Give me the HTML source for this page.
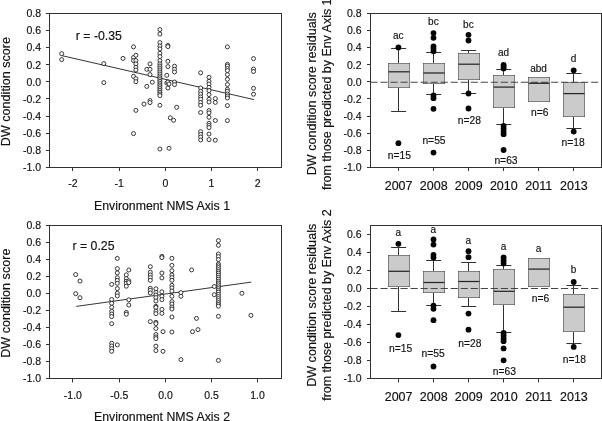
<!DOCTYPE html>
<html lang="en">
<head>
<meta charset="utf-8">
<title>DW condition score vs Environment NMS axes</title>
<style>
html,body{margin:0;padding:0;background:#fff;}
body{width:602px;height:421px;overflow:hidden;}
svg{display:block;will-change:transform;}
</style>
</head>
<body>
<svg width="602" height="421" viewBox="0 0 602 421" font-family="'Liberation Sans', Arial, Helvetica, sans-serif" fill="#111111" stroke="#111111" stroke-width="0.16" paint-order="stroke">
<g>
<rect x="-2" y="-2" width="606" height="425" fill="#ffffff" stroke="none"/>
<rect x="49.5" y="13.5" width="232" height="154" fill="none" stroke="#323232" stroke-width="1"/>
<line x1="45.95" y1="13.5" x2="49.7" y2="13.5" stroke="#323232" stroke-width="1.0"/>
<text x="41" y="17.35" font-size="10.5" text-anchor="end">0.8</text>
<line x1="45.95" y1="30.5" x2="49.7" y2="30.5" stroke="#323232" stroke-width="1.0"/>
<text x="41" y="34.42" font-size="10.5" text-anchor="end">0.6</text>
<line x1="45.95" y1="47.5" x2="49.7" y2="47.5" stroke="#323232" stroke-width="1.0"/>
<text x="41" y="51.49" font-size="10.5" text-anchor="end">0.4</text>
<line x1="45.95" y1="64.5" x2="49.7" y2="64.5" stroke="#323232" stroke-width="1.0"/>
<text x="41" y="68.57" font-size="10.5" text-anchor="end">0.2</text>
<line x1="45.95" y1="81.5" x2="49.7" y2="81.5" stroke="#323232" stroke-width="1.0"/>
<text x="41" y="85.64" font-size="10.5" text-anchor="end">0.0</text>
<line x1="45.95" y1="98.5" x2="49.7" y2="98.5" stroke="#323232" stroke-width="1.0"/>
<text x="41" y="102.71" font-size="10.5" text-anchor="end">-0.2</text>
<line x1="45.95" y1="116.5" x2="49.7" y2="116.5" stroke="#323232" stroke-width="1.0"/>
<text x="41" y="119.78" font-size="10.5" text-anchor="end">-0.4</text>
<line x1="45.95" y1="133.5" x2="49.7" y2="133.5" stroke="#323232" stroke-width="1.0"/>
<text x="41" y="136.86" font-size="10.5" text-anchor="end">-0.6</text>
<line x1="45.95" y1="150.5" x2="49.7" y2="150.5" stroke="#323232" stroke-width="1.0"/>
<text x="41" y="153.93" font-size="10.5" text-anchor="end">-0.8</text>
<line x1="45.95" y1="167.5" x2="49.7" y2="167.5" stroke="#323232" stroke-width="1.0"/>
<text x="41" y="171" font-size="10.5" text-anchor="end">-1.0</text>
<line x1="72.5" y1="167.25" x2="72.5" y2="171" stroke="#323232" stroke-width="1.0"/>
<text x="72.9" y="187" font-size="10.5" text-anchor="middle">-2</text>
<line x1="119.5" y1="167.25" x2="119.5" y2="171" stroke="#323232" stroke-width="1.0"/>
<text x="119.2" y="187" font-size="10.5" text-anchor="middle">-1</text>
<line x1="165.5" y1="167.25" x2="165.5" y2="171" stroke="#323232" stroke-width="1.0"/>
<text x="165.5" y="187" font-size="10.5" text-anchor="middle">0</text>
<line x1="211.5" y1="167.25" x2="211.5" y2="171" stroke="#323232" stroke-width="1.0"/>
<text x="211.5" y="187" font-size="10.5" text-anchor="middle">1</text>
<line x1="257.5" y1="167.25" x2="257.5" y2="171" stroke="#323232" stroke-width="1.0"/>
<text x="257.6" y="187" font-size="10.5" text-anchor="middle">2</text>
<text x="162" y="209.7" font-size="12.3" text-anchor="middle">Environment NMS Axis 1</text>
<text x="10.2" y="91.6" font-size="12.6" text-anchor="middle" transform="rotate(-90 10.2 91.6)">DW condition score</text>
<text x="75.8" y="39.7" font-size="12.3" text-anchor="start">r = -0.35</text>
<line x1="61.7" y1="55.6" x2="254" y2="99.6" stroke="#2a2a2a" stroke-width="0.95"/>
<g fill="#fff" stroke="#161616" stroke-width="0.85" paint-order="normal">
<circle cx="61.7" cy="53.7" r="2.0"/>
<circle cx="61.7" cy="59.6" r="2.0"/>
<circle cx="103.8" cy="63.6" r="2.0"/>
<circle cx="103.8" cy="82.6" r="2.0"/>
<circle cx="123" cy="58.4" r="2.0"/>
<circle cx="133.5" cy="46.9" r="2.0"/>
<circle cx="133.5" cy="57.5" r="2.0"/>
<circle cx="133.5" cy="60.6" r="2.0"/>
<circle cx="133.5" cy="76.4" r="2.0"/>
<circle cx="133.5" cy="133.6" r="2.0"/>
<circle cx="135.9" cy="55.3" r="2.0"/>
<circle cx="135.9" cy="60.6" r="2.0"/>
<circle cx="135.9" cy="63.9" r="2.0"/>
<circle cx="135.9" cy="67.3" r="2.0"/>
<circle cx="135.9" cy="70" r="2.0"/>
<circle cx="135.9" cy="78.7" r="2.0"/>
<circle cx="135.9" cy="81.7" r="2.0"/>
<circle cx="135.9" cy="110.4" r="2.0"/>
<circle cx="144" cy="104.1" r="2.0"/>
<circle cx="146.8" cy="69.3" r="2.0"/>
<circle cx="146.8" cy="86.4" r="2.0"/>
<circle cx="150" cy="63.9" r="2.0"/>
<circle cx="150" cy="69.3" r="2.0"/>
<circle cx="150" cy="74.6" r="2.0"/>
<circle cx="150" cy="100.6" r="2.0"/>
<circle cx="150" cy="102.6" r="2.0"/>
<circle cx="152.3" cy="82.2" r="2.0"/>
<circle cx="159.9" cy="29.6" r="2.0"/>
<circle cx="159.9" cy="34" r="2.0"/>
<circle cx="159.9" cy="42.6" r="2.0"/>
<circle cx="159.9" cy="46" r="2.0"/>
<circle cx="159.9" cy="48.9" r="2.0"/>
<circle cx="159.9" cy="53.3" r="2.0"/>
<circle cx="159.9" cy="56.6" r="2.0"/>
<circle cx="159.9" cy="60.6" r="2.0"/>
<circle cx="159.9" cy="63.9" r="2.0"/>
<circle cx="159.9" cy="66" r="2.0"/>
<circle cx="159.9" cy="68" r="2.0"/>
<circle cx="159.9" cy="70" r="2.0"/>
<circle cx="159.9" cy="72" r="2.0"/>
<circle cx="159.9" cy="74" r="2.0"/>
<circle cx="159.9" cy="76" r="2.0"/>
<circle cx="159.9" cy="77.8" r="2.0"/>
<circle cx="159.9" cy="79.6" r="2.0"/>
<circle cx="159.9" cy="81.4" r="2.0"/>
<circle cx="159.9" cy="83.2" r="2.0"/>
<circle cx="159.9" cy="85" r="2.0"/>
<circle cx="159.9" cy="86.8" r="2.0"/>
<circle cx="159.9" cy="88.6" r="2.0"/>
<circle cx="159.9" cy="90.4" r="2.0"/>
<circle cx="159.9" cy="92.2" r="2.0"/>
<circle cx="159.9" cy="94" r="2.0"/>
<circle cx="159.9" cy="95.6" r="2.0"/>
<circle cx="159.9" cy="105.3" r="2.0"/>
<circle cx="159.9" cy="149" r="2.0"/>
<circle cx="166.8" cy="75.3" r="2.0"/>
<circle cx="166.8" cy="83" r="2.0"/>
<circle cx="167.9" cy="45.4" r="2.0"/>
<circle cx="167.9" cy="46.6" r="2.0"/>
<circle cx="167.9" cy="61.3" r="2.0"/>
<circle cx="167.9" cy="66.6" r="2.0"/>
<circle cx="167.9" cy="82" r="2.0"/>
<circle cx="167.9" cy="88" r="2.0"/>
<circle cx="169" cy="84" r="2.0"/>
<circle cx="169" cy="148.3" r="2.0"/>
<circle cx="170.3" cy="117.8" r="2.0"/>
<circle cx="173.6" cy="120.3" r="2.0"/>
<circle cx="174.5" cy="66.2" r="2.0"/>
<circle cx="174.5" cy="69.3" r="2.0"/>
<circle cx="174.5" cy="72" r="2.0"/>
<circle cx="174.5" cy="82" r="2.0"/>
<circle cx="174.5" cy="84.6" r="2.0"/>
<circle cx="176.7" cy="107.3" r="2.0"/>
<circle cx="200.65" cy="72.8" r="2.0"/>
<circle cx="200.65" cy="88" r="2.0"/>
<circle cx="200.65" cy="91.3" r="2.0"/>
<circle cx="200.65" cy="94" r="2.0"/>
<circle cx="200.65" cy="96.9" r="2.0"/>
<circle cx="200.65" cy="99.3" r="2.0"/>
<circle cx="200.65" cy="102.6" r="2.0"/>
<circle cx="200.65" cy="105.3" r="2.0"/>
<circle cx="200.65" cy="112.5" r="2.0"/>
<circle cx="200.65" cy="131.7" r="2.0"/>
<circle cx="200.65" cy="134.4" r="2.0"/>
<circle cx="200.65" cy="137" r="2.0"/>
<circle cx="200.65" cy="140" r="2.0"/>
<circle cx="209" cy="77.3" r="2.0"/>
<circle cx="209" cy="81.3" r="2.0"/>
<circle cx="209" cy="84" r="2.0"/>
<circle cx="209" cy="87.3" r="2.0"/>
<circle cx="209" cy="90.6" r="2.0"/>
<circle cx="209" cy="94.6" r="2.0"/>
<circle cx="209" cy="99.3" r="2.0"/>
<circle cx="209" cy="102" r="2.0"/>
<circle cx="209" cy="110.6" r="2.0"/>
<circle cx="209" cy="112.9" r="2.0"/>
<circle cx="209" cy="117.3" r="2.0"/>
<circle cx="209" cy="123.3" r="2.0"/>
<circle cx="209" cy="125.5" r="2.0"/>
<circle cx="209" cy="127.6" r="2.0"/>
<circle cx="209" cy="134" r="2.0"/>
<circle cx="209" cy="139.6" r="2.0"/>
<circle cx="215.3" cy="98.6" r="2.0"/>
<circle cx="215.3" cy="102.4" r="2.0"/>
<circle cx="215.3" cy="120.5" r="2.0"/>
<circle cx="215.3" cy="140.2" r="2.0"/>
<circle cx="227.4" cy="46.9" r="2.0"/>
<circle cx="227.4" cy="64.4" r="2.0"/>
<circle cx="227.4" cy="66" r="2.0"/>
<circle cx="227.4" cy="68.6" r="2.0"/>
<circle cx="227.4" cy="70.6" r="2.0"/>
<circle cx="227.4" cy="74.6" r="2.0"/>
<circle cx="227.4" cy="79.3" r="2.0"/>
<circle cx="227.4" cy="84.5" r="2.0"/>
<circle cx="227.4" cy="89.3" r="2.0"/>
<circle cx="227.4" cy="91.3" r="2.0"/>
<circle cx="227.4" cy="94" r="2.0"/>
<circle cx="227.4" cy="96" r="2.0"/>
<circle cx="227.4" cy="98" r="2.0"/>
<circle cx="227.4" cy="105.6" r="2.0"/>
<circle cx="227.4" cy="120.6" r="2.0"/>
<circle cx="253.5" cy="58.6" r="2.0"/>
<circle cx="253.5" cy="69" r="2.0"/>
<circle cx="253.5" cy="71.5" r="2.0"/>
<circle cx="253.5" cy="88.3" r="2.0"/>
<circle cx="253.5" cy="94.2" r="2.0"/>
</g>
<rect x="49.5" y="225.5" width="232" height="153" fill="none" stroke="#323232" stroke-width="1"/>
<line x1="45.95" y1="225.5" x2="49.7" y2="225.5" stroke="#323232" stroke-width="1.0"/>
<text x="41" y="229" font-size="10.5" text-anchor="end">0.8</text>
<line x1="45.95" y1="242.5" x2="49.7" y2="242.5" stroke="#323232" stroke-width="1.0"/>
<text x="41" y="246.05" font-size="10.5" text-anchor="end">0.6</text>
<line x1="45.95" y1="259.5" x2="49.7" y2="259.5" stroke="#323232" stroke-width="1.0"/>
<text x="41" y="263.1" font-size="10.5" text-anchor="end">0.4</text>
<line x1="45.95" y1="276.5" x2="49.7" y2="276.5" stroke="#323232" stroke-width="1.0"/>
<text x="41" y="280.15" font-size="10.5" text-anchor="end">0.2</text>
<line x1="45.95" y1="293.5" x2="49.7" y2="293.5" stroke="#323232" stroke-width="1.0"/>
<text x="41" y="297.2" font-size="10.5" text-anchor="end">0.0</text>
<line x1="45.95" y1="310.5" x2="49.7" y2="310.5" stroke="#323232" stroke-width="1.0"/>
<text x="41" y="314.25" font-size="10.5" text-anchor="end">-0.2</text>
<line x1="45.95" y1="327.5" x2="49.7" y2="327.5" stroke="#323232" stroke-width="1.0"/>
<text x="41" y="331.3" font-size="10.5" text-anchor="end">-0.4</text>
<line x1="45.95" y1="344.5" x2="49.7" y2="344.5" stroke="#323232" stroke-width="1.0"/>
<text x="41" y="348.35" font-size="10.5" text-anchor="end">-0.6</text>
<line x1="45.95" y1="361.5" x2="49.7" y2="361.5" stroke="#323232" stroke-width="1.0"/>
<text x="41" y="365.4" font-size="10.5" text-anchor="end">-0.8</text>
<line x1="45.95" y1="378.5" x2="49.7" y2="378.5" stroke="#323232" stroke-width="1.0"/>
<text x="41" y="382.45" font-size="10.5" text-anchor="end">-1.0</text>
<line x1="72.5" y1="378.7" x2="72.5" y2="382.45" stroke="#323232" stroke-width="1.0"/>
<text x="72.9" y="398.6" font-size="10.5" text-anchor="middle">-1.0</text>
<line x1="119.5" y1="378.7" x2="119.5" y2="382.45" stroke="#323232" stroke-width="1.0"/>
<text x="119.2" y="398.6" font-size="10.5" text-anchor="middle">-0.5</text>
<line x1="165.5" y1="378.7" x2="165.5" y2="382.45" stroke="#323232" stroke-width="1.0"/>
<text x="165.6" y="398.6" font-size="10.5" text-anchor="middle">0.0</text>
<line x1="211.5" y1="378.7" x2="211.5" y2="382.45" stroke="#323232" stroke-width="1.0"/>
<text x="211.6" y="398.6" font-size="10.5" text-anchor="middle">0.5</text>
<line x1="257.5" y1="378.7" x2="257.5" y2="382.45" stroke="#323232" stroke-width="1.0"/>
<text x="257.6" y="398.6" font-size="10.5" text-anchor="middle">1.0</text>
<text x="162" y="420.6" font-size="12.3" text-anchor="middle">Environment NMS Axis 2</text>
<text x="10.2" y="303.2" font-size="12.6" text-anchor="middle" transform="rotate(-90 10.2 303.2)">DW condition score</text>
<text x="72.5" y="249.6" font-size="12.3" text-anchor="start">r = 0.25</text>
<line x1="76.2" y1="306.4" x2="251.3" y2="282.1" stroke="#2a2a2a" stroke-width="0.95"/>
<g fill="#fff" stroke="#161616" stroke-width="0.85" paint-order="normal">
<circle cx="75.7" cy="274.6" r="2.0"/>
<circle cx="75.7" cy="293.7" r="2.0"/>
<circle cx="80" cy="281" r="2.0"/>
<circle cx="80" cy="297.7" r="2.0"/>
<circle cx="111.7" cy="284.4" r="2.0"/>
<circle cx="111.7" cy="299.5" r="2.0"/>
<circle cx="111.7" cy="303.3" r="2.0"/>
<circle cx="111.7" cy="307.3" r="2.0"/>
<circle cx="111.7" cy="311.3" r="2.0"/>
<circle cx="111.7" cy="314" r="2.0"/>
<circle cx="111.7" cy="316.6" r="2.0"/>
<circle cx="111.7" cy="323.7" r="2.0"/>
<circle cx="111.7" cy="343.3" r="2.0"/>
<circle cx="111.7" cy="346" r="2.0"/>
<circle cx="111.7" cy="348.6" r="2.0"/>
<circle cx="111.7" cy="351.3" r="2.0"/>
<circle cx="117.3" cy="258.4" r="2.0"/>
<circle cx="117.3" cy="268.6" r="2.0"/>
<circle cx="117.3" cy="272.9" r="2.0"/>
<circle cx="117.3" cy="277.7" r="2.0"/>
<circle cx="117.3" cy="280.4" r="2.0"/>
<circle cx="117.3" cy="283.3" r="2.0"/>
<circle cx="117.3" cy="288.6" r="2.0"/>
<circle cx="117.3" cy="293.3" r="2.0"/>
<circle cx="117.3" cy="295.9" r="2.0"/>
<circle cx="117.3" cy="344.9" r="2.0"/>
<circle cx="126.3" cy="274.9" r="2.0"/>
<circle cx="126.3" cy="278.6" r="2.0"/>
<circle cx="126.3" cy="281.3" r="2.0"/>
<circle cx="126.3" cy="283.3" r="2.0"/>
<circle cx="126.3" cy="286.2" r="2.0"/>
<circle cx="126.3" cy="312.4" r="2.0"/>
<circle cx="126.3" cy="314.2" r="2.0"/>
<circle cx="128.8" cy="270" r="2.0"/>
<circle cx="128.8" cy="280.9" r="2.0"/>
<circle cx="128.8" cy="282.6" r="2.0"/>
<circle cx="128.8" cy="299.8" r="2.0"/>
<circle cx="128.8" cy="305" r="2.0"/>
<circle cx="150.3" cy="266.7" r="2.0"/>
<circle cx="150.3" cy="272.3" r="2.0"/>
<circle cx="150.3" cy="275" r="2.0"/>
<circle cx="150.3" cy="277.6" r="2.0"/>
<circle cx="150.3" cy="280.3" r="2.0"/>
<circle cx="150.3" cy="288.3" r="2.0"/>
<circle cx="150.3" cy="290.3" r="2.0"/>
<circle cx="150.3" cy="293" r="2.0"/>
<circle cx="150.3" cy="321.6" r="2.0"/>
<circle cx="155.9" cy="288.8" r="2.0"/>
<circle cx="155.9" cy="292.3" r="2.0"/>
<circle cx="155.9" cy="295" r="2.0"/>
<circle cx="155.9" cy="297.6" r="2.0"/>
<circle cx="155.9" cy="301" r="2.0"/>
<circle cx="155.9" cy="306.3" r="2.0"/>
<circle cx="155.9" cy="307.4" r="2.0"/>
<circle cx="155.9" cy="311.2" r="2.0"/>
<circle cx="155.9" cy="313.6" r="2.0"/>
<circle cx="155.9" cy="322.3" r="2.0"/>
<circle cx="155.9" cy="323.6" r="2.0"/>
<circle cx="155.9" cy="328.5" r="2.0"/>
<circle cx="155.9" cy="334.5" r="2.0"/>
<circle cx="155.9" cy="336.9" r="2.0"/>
<circle cx="155.9" cy="338.6" r="2.0"/>
<circle cx="155.9" cy="346.2" r="2.0"/>
<circle cx="155.9" cy="350.6" r="2.0"/>
<circle cx="161.9" cy="256.4" r="2.0"/>
<circle cx="161.9" cy="257.6" r="2.0"/>
<circle cx="161.9" cy="273" r="2.0"/>
<circle cx="161.9" cy="277.9" r="2.0"/>
<circle cx="161.9" cy="291.8" r="2.0"/>
<circle cx="161.9" cy="296.3" r="2.0"/>
<circle cx="161.9" cy="299.6" r="2.0"/>
<circle cx="161.9" cy="309.4" r="2.0"/>
<circle cx="161.9" cy="313.4" r="2.0"/>
<circle cx="163" cy="331.6" r="2.0"/>
<circle cx="163" cy="351.3" r="2.0"/>
<circle cx="171.9" cy="258.3" r="2.0"/>
<circle cx="171.9" cy="265.4" r="2.0"/>
<circle cx="171.9" cy="270.7" r="2.0"/>
<circle cx="171.9" cy="275" r="2.0"/>
<circle cx="171.9" cy="277.6" r="2.0"/>
<circle cx="171.9" cy="280.3" r="2.0"/>
<circle cx="171.9" cy="285.3" r="2.0"/>
<circle cx="171.9" cy="287.9" r="2.0"/>
<circle cx="171.9" cy="291" r="2.0"/>
<circle cx="171.9" cy="296.3" r="2.0"/>
<circle cx="171.9" cy="301.6" r="2.0"/>
<circle cx="171.9" cy="304" r="2.0"/>
<circle cx="171.9" cy="307" r="2.0"/>
<circle cx="171.9" cy="309" r="2.0"/>
<circle cx="171.9" cy="317" r="2.0"/>
<circle cx="171.9" cy="332" r="2.0"/>
<circle cx="180.9" cy="292.6" r="2.0"/>
<circle cx="180.9" cy="296.3" r="2.0"/>
<circle cx="180.9" cy="359.6" r="2.0"/>
<circle cx="191.6" cy="269.9" r="2.0"/>
<circle cx="192.5" cy="331.7" r="2.0"/>
<circle cx="196.5" cy="318.4" r="2.0"/>
<circle cx="198" cy="329.6" r="2.0"/>
<circle cx="214.3" cy="286.5" r="2.0"/>
<circle cx="214.3" cy="294.7" r="2.0"/>
<circle cx="218.4" cy="240.6" r="2.0"/>
<circle cx="218.4" cy="245.3" r="2.0"/>
<circle cx="218.4" cy="254" r="2.0"/>
<circle cx="218.4" cy="256.6" r="2.0"/>
<circle cx="218.4" cy="259.6" r="2.0"/>
<circle cx="218.4" cy="264" r="2.0"/>
<circle cx="218.4" cy="265.8" r="2.0"/>
<circle cx="218.4" cy="267.6" r="2.0"/>
<circle cx="218.4" cy="269.6" r="2.0"/>
<circle cx="218.4" cy="271.4" r="2.0"/>
<circle cx="218.4" cy="273.2" r="2.0"/>
<circle cx="218.4" cy="275.2" r="2.0"/>
<circle cx="218.4" cy="277.3" r="2.0"/>
<circle cx="218.4" cy="279.2" r="2.0"/>
<circle cx="218.4" cy="281.3" r="2.0"/>
<circle cx="218.4" cy="283" r="2.0"/>
<circle cx="218.4" cy="284.8" r="2.0"/>
<circle cx="218.4" cy="286.8" r="2.0"/>
<circle cx="218.4" cy="288.6" r="2.0"/>
<circle cx="218.4" cy="290.4" r="2.0"/>
<circle cx="218.4" cy="292.2" r="2.0"/>
<circle cx="218.4" cy="294.4" r="2.0"/>
<circle cx="218.4" cy="296.6" r="2.0"/>
<circle cx="218.4" cy="298.6" r="2.0"/>
<circle cx="218.4" cy="300.6" r="2.0"/>
<circle cx="218.4" cy="302.6" r="2.0"/>
<circle cx="218.4" cy="304.4" r="2.0"/>
<circle cx="218.4" cy="306.2" r="2.0"/>
<circle cx="218.4" cy="316.3" r="2.0"/>
<circle cx="218.4" cy="360.4" r="2.0"/>
<circle cx="241.9" cy="293.3" r="2.0"/>
<circle cx="250.9" cy="315.4" r="2.0"/>
</g>
<line x1="367" y1="13.5" x2="370.75" y2="13.5" stroke="#323232" stroke-width="1.0"/>
<text x="361.6" y="17.35" font-size="10.5" text-anchor="end">0.8</text>
<line x1="367" y1="30.5" x2="370.75" y2="30.5" stroke="#323232" stroke-width="1.0"/>
<text x="361.6" y="34.42" font-size="10.5" text-anchor="end">0.6</text>
<line x1="367" y1="47.5" x2="370.75" y2="47.5" stroke="#323232" stroke-width="1.0"/>
<text x="361.6" y="51.49" font-size="10.5" text-anchor="end">0.4</text>
<line x1="367" y1="64.5" x2="370.75" y2="64.5" stroke="#323232" stroke-width="1.0"/>
<text x="361.6" y="68.57" font-size="10.5" text-anchor="end">0.2</text>
<line x1="367" y1="81.5" x2="370.75" y2="81.5" stroke="#323232" stroke-width="1.0"/>
<text x="361.6" y="85.64" font-size="10.5" text-anchor="end">0.0</text>
<line x1="367" y1="98.5" x2="370.75" y2="98.5" stroke="#323232" stroke-width="1.0"/>
<text x="361.6" y="102.71" font-size="10.5" text-anchor="end">-0.2</text>
<line x1="367" y1="116.5" x2="370.75" y2="116.5" stroke="#323232" stroke-width="1.0"/>
<text x="361.6" y="119.78" font-size="10.5" text-anchor="end">-0.4</text>
<line x1="367" y1="133.5" x2="370.75" y2="133.5" stroke="#323232" stroke-width="1.0"/>
<text x="361.6" y="136.86" font-size="10.5" text-anchor="end">-0.6</text>
<line x1="367" y1="150.5" x2="370.75" y2="150.5" stroke="#323232" stroke-width="1.0"/>
<text x="361.6" y="153.93" font-size="10.5" text-anchor="end">-0.8</text>
<line x1="367" y1="167.5" x2="370.75" y2="167.5" stroke="#323232" stroke-width="1.0"/>
<text x="361.6" y="171" font-size="10.5" text-anchor="end">-1.0</text>
<line x1="398.5" y1="48.5" x2="398.5" y2="63.8" stroke="#323232" stroke-width="1.0"/>
<line x1="391.1" y1="48.5" x2="406.1" y2="48.5" stroke="#323232" stroke-width="1.0"/>
<line x1="398.5" y1="87.5" x2="398.5" y2="111.7" stroke="#323232" stroke-width="1.0"/>
<line x1="391.1" y1="111.5" x2="406.1" y2="111.5" stroke="#323232" stroke-width="1.0"/>
<line x1="433.5" y1="52.3" x2="433.5" y2="63.7" stroke="#323232" stroke-width="1.0"/>
<line x1="426.2" y1="52.5" x2="441.2" y2="52.5" stroke="#323232" stroke-width="1.0"/>
<line x1="433.5" y1="83" x2="433.5" y2="94.6" stroke="#323232" stroke-width="1.0"/>
<line x1="426.2" y1="94.5" x2="441.2" y2="94.5" stroke="#323232" stroke-width="1.0"/>
<line x1="468.5" y1="50.4" x2="468.5" y2="53.9" stroke="#323232" stroke-width="1.0"/>
<line x1="461.2" y1="50.5" x2="476.2" y2="50.5" stroke="#323232" stroke-width="1.0"/>
<line x1="468.5" y1="79" x2="468.5" y2="93.5" stroke="#323232" stroke-width="1.0"/>
<line x1="461.2" y1="93.5" x2="476.2" y2="93.5" stroke="#323232" stroke-width="1.0"/>
<line x1="503.5" y1="69.3" x2="503.5" y2="75" stroke="#323232" stroke-width="1.0"/>
<line x1="496.3" y1="69.5" x2="511.3" y2="69.5" stroke="#323232" stroke-width="1.0"/>
<line x1="503.5" y1="107.3" x2="503.5" y2="124.7" stroke="#323232" stroke-width="1.0"/>
<line x1="496.3" y1="124.5" x2="511.3" y2="124.5" stroke="#323232" stroke-width="1.0"/>
<line x1="573.5" y1="73.4" x2="573.5" y2="82" stroke="#323232" stroke-width="1.0"/>
<line x1="566.4" y1="73.5" x2="581.4" y2="73.5" stroke="#323232" stroke-width="1.0"/>
<line x1="573.5" y1="116.7" x2="573.5" y2="128" stroke="#323232" stroke-width="1.0"/>
<line x1="566.4" y1="128.5" x2="581.4" y2="128.5" stroke="#323232" stroke-width="1.0"/>
<rect x="388.5" y="63.5" width="21" height="24" fill="#cbcbcb" stroke="#323232" stroke-width="1"/>
<rect x="423.5" y="63.5" width="21" height="20" fill="#cbcbcb" stroke="#323232" stroke-width="1"/>
<rect x="458.5" y="53.5" width="21" height="26" fill="#cbcbcb" stroke="#323232" stroke-width="1"/>
<rect x="493.5" y="75.5" width="21" height="32" fill="#cbcbcb" stroke="#323232" stroke-width="1"/>
<rect x="528.5" y="77.5" width="21" height="24" fill="#cbcbcb" stroke="#323232" stroke-width="1"/>
<rect x="563.5" y="82.5" width="21" height="34" fill="#cbcbcb" stroke="#323232" stroke-width="1"/>
<line x1="370.4" y1="82.15" x2="601.3" y2="82.15" stroke="#444444" stroke-width="1.05" stroke-dasharray="7.2 2.83"/>
<line x1="388.5" y1="71.8" x2="409.5" y2="71.8" stroke="#262626" stroke-width="1.25"/>
<line x1="423.5" y1="73" x2="444.5" y2="73" stroke="#262626" stroke-width="1.25"/>
<line x1="458.5" y1="64.2" x2="479.5" y2="64.2" stroke="#262626" stroke-width="1.25"/>
<line x1="493.5" y1="87.1" x2="514.5" y2="87.1" stroke="#262626" stroke-width="1.25"/>
<line x1="528.5" y1="83.3" x2="549.5" y2="83.3" stroke="#262626" stroke-width="1.25"/>
<line x1="563.5" y1="93.6" x2="584.5" y2="93.6" stroke="#262626" stroke-width="1.25"/>
<g fill="#050505" stroke="none">
<circle cx="398.4" cy="47.4" r="2.9"/>
<circle cx="398.4" cy="143.2" r="2.9"/>
<circle cx="433.5" cy="33.1" r="2.9"/>
<circle cx="433.5" cy="37.8" r="2.9"/>
<circle cx="433.5" cy="46.4" r="2.9"/>
<circle cx="433.5" cy="48.8" r="2.9"/>
<circle cx="433.5" cy="51.3" r="2.9"/>
<circle cx="433.5" cy="95.5" r="2.9"/>
<circle cx="433.5" cy="98.2" r="2.9"/>
<circle cx="433.5" cy="108.8" r="2.9"/>
<circle cx="433.5" cy="152.6" r="2.9"/>
<circle cx="468.5" cy="34.8" r="2.9"/>
<circle cx="468.5" cy="40.5" r="2.9"/>
<circle cx="468.5" cy="93.5" r="2.9"/>
<circle cx="468.5" cy="108.5" r="2.9"/>
<circle cx="503.6" cy="64.8" r="2.9"/>
<circle cx="503.6" cy="66.6" r="2.9"/>
<circle cx="503.6" cy="68.4" r="2.9"/>
<circle cx="503.6" cy="126" r="2.9"/>
<circle cx="503.6" cy="128.8" r="2.9"/>
<circle cx="503.6" cy="131.6" r="2.9"/>
<circle cx="503.6" cy="134.2" r="2.9"/>
<circle cx="503.6" cy="150" r="2.9"/>
<circle cx="573.7" cy="70.3" r="2.9"/>
<circle cx="573.7" cy="131.6" r="2.9"/>
</g>
<text x="398.3" y="39" font-size="10" text-anchor="middle">ac</text>
<text x="399.3" y="159.3" font-size="10.3" text-anchor="middle">n=15</text>
<text x="433.4" y="25.1" font-size="10" text-anchor="middle">bc</text>
<text x="434" y="144.2" font-size="10.3" text-anchor="middle">n=55</text>
<text x="468.4" y="27.6" font-size="10" text-anchor="middle">bc</text>
<text x="469.4" y="123.6" font-size="10.3" text-anchor="middle">n=28</text>
<text x="503.5" y="56.1" font-size="10" text-anchor="middle">ad</text>
<text x="506" y="163.9" font-size="10.3" text-anchor="middle">n=63</text>
<text x="538.5" y="71.8" font-size="10" text-anchor="middle">abd</text>
<text x="539.8" y="116.2" font-size="10.3" text-anchor="middle">n=6</text>
<text x="573.6" y="62" font-size="10" text-anchor="middle">d</text>
<text x="573.2" y="145.7" font-size="10.3" text-anchor="middle">n=18</text>
<rect x="370.5" y="13.5" width="231" height="154" fill="none" stroke="#323232" stroke-width="1"/>
<line x1="398.5" y1="167.25" x2="398.5" y2="171" stroke="#323232" stroke-width="1.0"/>
<text x="398.6" y="189.8" font-size="12.5" text-anchor="middle">2007</text>
<line x1="433.5" y1="167.25" x2="433.5" y2="171" stroke="#323232" stroke-width="1.0"/>
<text x="433.7" y="189.8" font-size="12.5" text-anchor="middle">2008</text>
<line x1="468.5" y1="167.25" x2="468.5" y2="171" stroke="#323232" stroke-width="1.0"/>
<text x="468.7" y="189.8" font-size="12.5" text-anchor="middle">2009</text>
<line x1="503.5" y1="167.25" x2="503.5" y2="171" stroke="#323232" stroke-width="1.0"/>
<text x="503.8" y="189.8" font-size="12.5" text-anchor="middle">2010</text>
<line x1="538.5" y1="167.25" x2="538.5" y2="171" stroke="#323232" stroke-width="1.0"/>
<text x="538.8" y="189.8" font-size="12.5" text-anchor="middle">2011</text>
<line x1="573.5" y1="167.25" x2="573.5" y2="171" stroke="#323232" stroke-width="1.0"/>
<text x="573.9" y="189.8" font-size="12.5" text-anchor="middle">2013</text>
<text x="316.2" y="93.75" font-size="12.6" text-anchor="middle" transform="rotate(-90 316.2 93.75)">DW condition score residuals</text>
<text x="330.7" y="190" font-size="12.45" text-anchor="start" transform="rotate(-90 330.7 190)">from those predicted by Env Axis 1</text>
<line x1="367" y1="234.5" x2="370.75" y2="234.5" stroke="#323232" stroke-width="1.0"/>
<text x="361.6" y="238.15" font-size="10.5" text-anchor="end">0.6</text>
<line x1="367" y1="252.5" x2="370.75" y2="252.5" stroke="#323232" stroke-width="1.0"/>
<text x="361.6" y="256.15" font-size="10.5" text-anchor="end">0.4</text>
<line x1="367" y1="270.5" x2="370.75" y2="270.5" stroke="#323232" stroke-width="1.0"/>
<text x="361.6" y="274.15" font-size="10.5" text-anchor="end">0.2</text>
<line x1="367" y1="288.5" x2="370.75" y2="288.5" stroke="#323232" stroke-width="1.0"/>
<text x="361.6" y="292.15" font-size="10.5" text-anchor="end">0.0</text>
<line x1="367" y1="306.5" x2="370.75" y2="306.5" stroke="#323232" stroke-width="1.0"/>
<text x="361.6" y="310.15" font-size="10.5" text-anchor="end">-0.2</text>
<line x1="367" y1="324.5" x2="370.75" y2="324.5" stroke="#323232" stroke-width="1.0"/>
<text x="361.6" y="328.15" font-size="10.5" text-anchor="end">-0.4</text>
<line x1="367" y1="342.5" x2="370.75" y2="342.5" stroke="#323232" stroke-width="1.0"/>
<text x="361.6" y="346.15" font-size="10.5" text-anchor="end">-0.6</text>
<line x1="367" y1="360.5" x2="370.75" y2="360.5" stroke="#323232" stroke-width="1.0"/>
<text x="361.6" y="364.15" font-size="10.5" text-anchor="end">-0.8</text>
<line x1="367" y1="378.5" x2="370.75" y2="378.5" stroke="#323232" stroke-width="1.0"/>
<text x="361.6" y="382.15" font-size="10.5" text-anchor="end">-1.0</text>
<line x1="398.5" y1="247.5" x2="398.5" y2="255" stroke="#323232" stroke-width="1.0"/>
<line x1="391.1" y1="247.5" x2="406.1" y2="247.5" stroke="#323232" stroke-width="1.0"/>
<line x1="398.5" y1="286.5" x2="398.5" y2="311" stroke="#323232" stroke-width="1.0"/>
<line x1="391.1" y1="311.5" x2="406.1" y2="311.5" stroke="#323232" stroke-width="1.0"/>
<line x1="433.5" y1="260" x2="433.5" y2="271.3" stroke="#323232" stroke-width="1.0"/>
<line x1="426.2" y1="260.5" x2="441.2" y2="260.5" stroke="#323232" stroke-width="1.0"/>
<line x1="433.5" y1="292.7" x2="433.5" y2="305.4" stroke="#323232" stroke-width="1.0"/>
<line x1="426.2" y1="305.5" x2="441.2" y2="305.5" stroke="#323232" stroke-width="1.0"/>
<line x1="468.5" y1="262.3" x2="468.5" y2="271.4" stroke="#323232" stroke-width="1.0"/>
<line x1="461.2" y1="262.5" x2="476.2" y2="262.5" stroke="#323232" stroke-width="1.0"/>
<line x1="468.5" y1="297.3" x2="468.5" y2="306.9" stroke="#323232" stroke-width="1.0"/>
<line x1="461.2" y1="306.5" x2="476.2" y2="306.5" stroke="#323232" stroke-width="1.0"/>
<line x1="503.5" y1="265" x2="503.5" y2="269.6" stroke="#323232" stroke-width="1.0"/>
<line x1="496.3" y1="265.5" x2="511.3" y2="265.5" stroke="#323232" stroke-width="1.0"/>
<line x1="503.5" y1="304.7" x2="503.5" y2="332.6" stroke="#323232" stroke-width="1.0"/>
<line x1="496.3" y1="332.5" x2="511.3" y2="332.5" stroke="#323232" stroke-width="1.0"/>
<line x1="573.5" y1="285.3" x2="573.5" y2="294.7" stroke="#323232" stroke-width="1.0"/>
<line x1="566.4" y1="285.5" x2="581.4" y2="285.5" stroke="#323232" stroke-width="1.0"/>
<line x1="573.5" y1="331" x2="573.5" y2="343.5" stroke="#323232" stroke-width="1.0"/>
<line x1="566.4" y1="343.5" x2="581.4" y2="343.5" stroke="#323232" stroke-width="1.0"/>
<rect x="388.5" y="255.5" width="21" height="31" fill="#cbcbcb" stroke="#323232" stroke-width="1"/>
<rect x="423.5" y="271.5" width="21" height="21" fill="#cbcbcb" stroke="#323232" stroke-width="1"/>
<rect x="458.5" y="271.5" width="21" height="26" fill="#cbcbcb" stroke="#323232" stroke-width="1"/>
<rect x="493.5" y="269.5" width="21" height="35" fill="#cbcbcb" stroke="#323232" stroke-width="1"/>
<rect x="528.5" y="258.5" width="21" height="28" fill="#cbcbcb" stroke="#323232" stroke-width="1"/>
<rect x="563.5" y="294.5" width="21" height="37" fill="#cbcbcb" stroke="#323232" stroke-width="1"/>
<line x1="370.4" y1="288.4" x2="601.3" y2="288.4" stroke="#444444" stroke-width="1.05" stroke-dasharray="7.2 2.83"/>
<line x1="388.5" y1="271.3" x2="409.5" y2="271.3" stroke="#262626" stroke-width="1.25"/>
<line x1="423.5" y1="282.5" x2="444.5" y2="282.5" stroke="#262626" stroke-width="1.25"/>
<line x1="458.5" y1="281.5" x2="479.5" y2="281.5" stroke="#262626" stroke-width="1.25"/>
<line x1="493.5" y1="291.3" x2="514.5" y2="291.3" stroke="#262626" stroke-width="1.25"/>
<line x1="528.5" y1="269.1" x2="549.5" y2="269.1" stroke="#262626" stroke-width="1.25"/>
<line x1="563.5" y1="307.2" x2="584.5" y2="307.2" stroke="#262626" stroke-width="1.25"/>
<g fill="#050505" stroke="none">
<circle cx="398.4" cy="243.8" r="2.9"/>
<circle cx="398.4" cy="335.1" r="2.9"/>
<circle cx="433.5" cy="239.4" r="2.9"/>
<circle cx="433.5" cy="244.6" r="2.9"/>
<circle cx="433.5" cy="254.8" r="2.9"/>
<circle cx="433.5" cy="257.6" r="2.9"/>
<circle cx="433.5" cy="305.6" r="2.9"/>
<circle cx="433.5" cy="308.8" r="2.9"/>
<circle cx="433.5" cy="320.2" r="2.9"/>
<circle cx="433.5" cy="366.5" r="2.9"/>
<circle cx="468.5" cy="251.2" r="2.9"/>
<circle cx="468.5" cy="257.2" r="2.9"/>
<circle cx="468.5" cy="313.6" r="2.9"/>
<circle cx="468.5" cy="329.7" r="2.9"/>
<circle cx="503.6" cy="257.4" r="2.9"/>
<circle cx="503.6" cy="260.4" r="2.9"/>
<circle cx="503.6" cy="263.4" r="2.9"/>
<circle cx="503.6" cy="333" r="2.9"/>
<circle cx="503.6" cy="335.8" r="2.9"/>
<circle cx="503.6" cy="338.6" r="2.9"/>
<circle cx="503.6" cy="341.2" r="2.9"/>
<circle cx="503.6" cy="348.4" r="2.9"/>
<circle cx="503.6" cy="360.3" r="2.9"/>
<circle cx="573.7" cy="282" r="2.9"/>
<circle cx="573.7" cy="346.9" r="2.9"/>
</g>
<text x="398.3" y="235.8" font-size="10" text-anchor="middle">a</text>
<text x="400.6" y="351.8" font-size="10.3" text-anchor="middle">n=15</text>
<text x="433.4" y="233.4" font-size="10" text-anchor="middle">a</text>
<text x="433.2" y="356.5" font-size="10.3" text-anchor="middle">n=55</text>
<text x="468.4" y="244" font-size="10" text-anchor="middle">a</text>
<text x="469.8" y="347" font-size="10.3" text-anchor="middle">n=28</text>
<text x="503.5" y="250" font-size="10" text-anchor="middle">a</text>
<text x="504.4" y="374.5" font-size="10.3" text-anchor="middle">n=63</text>
<text x="538.5" y="252.4" font-size="10" text-anchor="middle">a</text>
<text x="540.4" y="301.8" font-size="10.3" text-anchor="middle">n=6</text>
<text x="573.6" y="273.1" font-size="10" text-anchor="middle">b</text>
<text x="574.4" y="363" font-size="10.3" text-anchor="middle">n=18</text>
<rect x="370.5" y="225.5" width="231" height="153" fill="none" stroke="#323232" stroke-width="1"/>
<line x1="398.5" y1="378.7" x2="398.5" y2="382.45" stroke="#323232" stroke-width="1.0"/>
<text x="398.6" y="401.3" font-size="12.5" text-anchor="middle">2007</text>
<line x1="433.5" y1="378.7" x2="433.5" y2="382.45" stroke="#323232" stroke-width="1.0"/>
<text x="433.7" y="401.3" font-size="12.5" text-anchor="middle">2008</text>
<line x1="468.5" y1="378.7" x2="468.5" y2="382.45" stroke="#323232" stroke-width="1.0"/>
<text x="468.7" y="401.3" font-size="12.5" text-anchor="middle">2009</text>
<line x1="503.5" y1="378.7" x2="503.5" y2="382.45" stroke="#323232" stroke-width="1.0"/>
<text x="503.8" y="401.3" font-size="12.5" text-anchor="middle">2010</text>
<line x1="538.5" y1="378.7" x2="538.5" y2="382.45" stroke="#323232" stroke-width="1.0"/>
<text x="538.8" y="401.3" font-size="12.5" text-anchor="middle">2011</text>
<line x1="573.5" y1="378.7" x2="573.5" y2="382.45" stroke="#323232" stroke-width="1.0"/>
<text x="573.9" y="401.3" font-size="12.5" text-anchor="middle">2013</text>
<text x="316.2" y="305.3" font-size="12.6" text-anchor="middle" transform="rotate(-90 316.2 305.3)">DW condition score residuals</text>
<text x="330.7" y="400.8" font-size="12.45" text-anchor="start" transform="rotate(-90 330.7 400.8)">from those predicted by Env Axis 2</text>
</g>
</svg>
</body>
</html>
